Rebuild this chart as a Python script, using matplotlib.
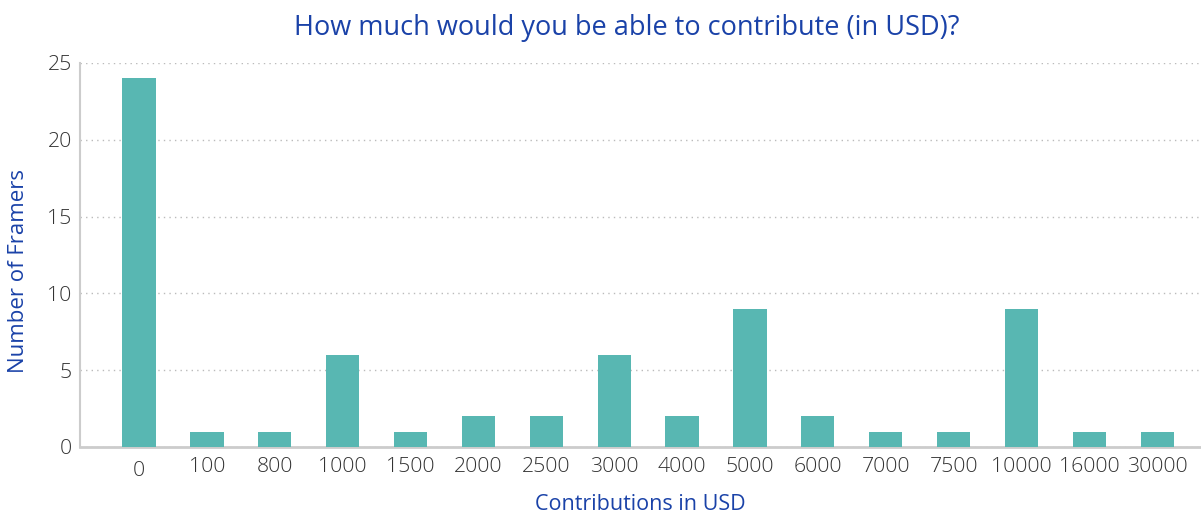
import matplotlib
matplotlib.use("Agg")
import matplotlib.pyplot as plt

plt.rcParams['font.family'] = ['Open Sans', 'DejaVu Sans']

categories = ["0", "100", "800", "1000", "1500", "2000", "2500", "3000", "4000",
              "5000", "6000", "7000", "7500", "10000", "16000", "30000"]
counts = [24, 1, 1, 6, 1, 2, 2, 6, 2, 9, 2, 1, 1, 9, 1, 1]

bar_color = "#58b7b2"
blue = "#1a42a8"

fig = plt.figure(figsize=(12.01, 5.13), dpi=100)
ax = fig.add_axes([0.0666, 0.1287, 0.9326, 0.7485])

x = list(range(len(categories)))
ax.bar(x, counts, width=0.49, color=bar_color, zorder=3)

ax.set_xlim(-0.87, len(categories) - 1 + 0.63)
ax.set_ylim(0, 25)
ax.set_yticks([0, 5, 10, 15, 20, 25])
ax.set_xticks(x)
ax.set_xticklabels(categories)

ax.grid(axis='y', linestyle=(0, (1, 3)), color="#bbbbbb", linewidth=1, zorder=0)
for s in ['top', 'right']:
    ax.spines[s].set_visible(False)
ax.spines['left'].set_color("#cccccc")
ax.spines['left'].set_linewidth(1.5)
ax.spines['bottom'].set_color("#cccccc")
ax.spines['bottom'].set_linewidth(2)

ax.tick_params(axis='both', length=0, labelsize=15.3, labelcolor="#333333")
ax.tick_params(axis='y', pad=6)
ax.tick_params(axis='x', pad=7)
for t in ax.get_xticklabels() + ax.get_yticklabels():
    t.set_fontweight('light')
# the first category label sits a bit lower in the original
lbl0 = ax.get_xticklabels()[0]
lbl0.set_y(-0.012)

fig.suptitle("How much would you be able to contribute (in USD)?", x=0.522, y=0.973,
             fontsize=19.5, color=blue)
ax.set_xlabel("Contributions in USD", fontsize=15.5, color=blue, labelpad=9)
ax.set_ylabel("Number of Framers", fontsize=16, color=blue)
ax.yaxis.set_label_coords(-0.0455, 0.458)

fig.savefig("out.png", dpi=100)
